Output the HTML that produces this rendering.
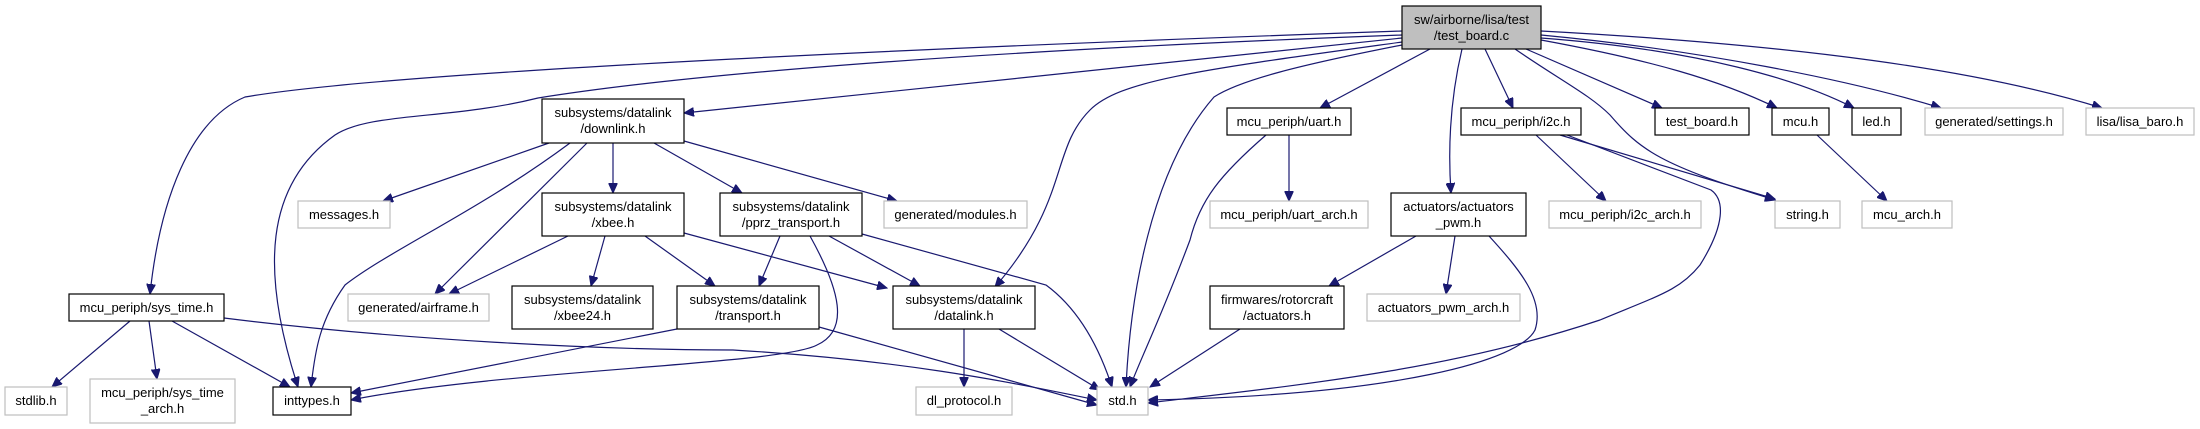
<!DOCTYPE html>
<html><head><meta charset="utf-8"><style>
html,body{margin:0;padding:0;background:#fff;width:2200px;height:429px;overflow:hidden}
svg{display:block}
text{font-family:"Liberation Sans",sans-serif;font-size:13px;fill:#000;text-anchor:middle}
.e{fill:none;stroke:#191970;stroke-width:1.2}
.b{fill:#fff;stroke:#000;stroke-width:1.2}
.g{fill:#fff;stroke:#bfbfbf;stroke-width:1.2}
</style></head><body>
<svg width="2200" height="429" viewBox="0 0 2200 429" xmlns="http://www.w3.org/2000/svg">
<defs><marker id="a" markerUnits="userSpaceOnUse" markerWidth="11" markerHeight="9" refX="10" refY="4.5" orient="auto"><path d="M0,0 L10,4.5 L0,9 z" fill="#191970" stroke="#191970"/></marker></defs>
<g marker-end="url(#a)">
<path class="e" d="M1402,31 C1000,45 400,70 245,97 C190,120 160,200 150,294"/>
<path class="e" d="M1402,35 C1000,50 700,72 538,98 C450,120 370,112 335,135 C265,185 260,270 298,387"/>
<path class="e" d="M1402,38 C1200,60 900,90 684,113"/>
<path class="e" d="M1402,42 C1200,70 1120,80 1090,110 C1050,150 1070,200 995,287"/>
<path class="e" d="M1402,45 C1300,65 1240,80 1214,97 C1150,170 1130,300 1126,387"/>
<path class="e" d="M1430,49 L1320,108"/>
<path class="e" d="M1462,49 C1450,100 1448,150 1451,193"/>
<path class="e" d="M1485,49 L1513,108"/>
<path class="e" d="M1515,49 C1560,80 1590,95 1610,115 C1640,150 1660,165 1775,200"/>
<path class="e" d="M1526,49 L1662,108"/>
<path class="e" d="M1541,40 C1650,60 1720,80 1777,108"/>
<path class="e" d="M1541,38 C1700,50 1800,80 1854,108"/>
<path class="e" d="M1541,35 C1700,50 1850,80 1941,108"/>
<path class="e" d="M1541,31 C1800,45 1980,70 2102,108"/>
<path class="e" d="M549,143 L383,201"/>
<path class="e" d="M570,143 C480,210 390,250 345,285 C320,320 315,350 311,387"/>
<path class="e" d="M587,143 L435,294"/>
<path class="e" d="M613,143 L613,193"/>
<path class="e" d="M654,143 L742,193"/>
<path class="e" d="M684,141 L897,201"/>
<path class="e" d="M568,236 L449,294"/>
<path class="e" d="M605,236 L591,286"/>
<path class="e" d="M645,236 L715,286"/>
<path class="e" d="M684,233 L887,288"/>
<path class="e" d="M780,236 L759,286"/>
<path class="e" d="M810,236 C840,290 850,330 817,345 C780,365 500,370 351,400"/>
<path class="e" d="M829,236 L920,286"/>
<path class="e" d="M862,234 L1046,285 C1080,310 1100,350 1112,387"/>
<path class="e" d="M677,329 L351,393"/>
<path class="e" d="M819,327 L1097,405"/>
<path class="e" d="M964,329 L964,387"/>
<path class="e" d="M999,329 L1100,390"/>
<path class="e" d="M130,321 L52,387"/>
<path class="e" d="M149,321 L157,379"/>
<path class="e" d="M172,321 L290,387"/>
<path class="e" d="M224,318 C400,340 600,350 733,350 C900,360 1000,380 1097,400"/>
<path class="e" d="M1289,135 L1289,201"/>
<path class="e" d="M1266,135 C1220,175 1200,200 1190,240 C1160,320 1140,360 1130,387"/>
<path class="e" d="M1416,236 L1329,286"/>
<path class="e" d="M1455,236 L1446,294"/>
<path class="e" d="M1489,236 C1520,270 1545,300 1535,330 C1520,360 1400,395 1148,400"/>
<path class="e" d="M1240,329 L1150,387"/>
<path class="e" d="M1536,135 L1606,201"/>
<path class="e" d="M1560,135 L1775,199"/>
<path class="e" d="M1567,135 L1711,190 C1725,200 1725,225 1700,265 C1680,290 1660,295 1600,320 C1450,370 1300,385 1148,403"/>
<path class="e" d="M1817,135 L1887,201"/>
</g>
<g>
<rect x="1402" y="6" width="139" height="43" fill="#bfbfbf" stroke="#000" stroke-width="1.2"/><text x="1471.5" y="24">sw/airborne/lisa/test</text><text x="1471.5" y="40">/test_board.c</text>
<rect class="b" x="542" y="99" width="142" height="44"/><text x="613" y="117">subsystems/datalink</text><text x="613" y="133">/downlink.h</text>
<rect class="g" x="298" y="201" width="92" height="27"/><text x="344" y="219">messages.h</text>
<rect class="b" x="542" y="193" width="142" height="43"/><text x="613" y="211">subsystems/datalink</text><text x="613" y="227">/xbee.h</text>
<rect class="b" x="720" y="193" width="142" height="43"/><text x="791" y="211">subsystems/datalink</text><text x="791" y="227">/pprz_transport.h</text>
<rect class="g" x="884" y="201" width="143" height="27"/><text x="955.5" y="219">generated/modules.h</text>
<rect class="g" x="348" y="294" width="141" height="27"/><text x="418.5" y="312">generated/airframe.h</text>
<rect class="b" x="512" y="286" width="141" height="43"/><text x="582.5" y="304">subsystems/datalink</text><text x="582.5" y="320">/xbee24.h</text>
<rect class="b" x="677" y="286" width="142" height="43"/><text x="748" y="304">subsystems/datalink</text><text x="748" y="320">/transport.h</text>
<rect class="b" x="69" y="294" width="155" height="27"/><text x="146.5" y="312">mcu_periph/sys_time.h</text>
<rect class="g" x="5" y="387" width="62" height="28"/><text x="36" y="405">stdlib.h</text>
<rect class="g" x="90" y="379" width="145" height="44"/><text x="162.5" y="397">mcu_periph/sys_time</text><text x="162.5" y="413">_arch.h</text>
<rect class="b" x="273" y="387" width="78" height="28"/><text x="312" y="405">inttypes.h</text>
<rect class="b" x="1227" y="108" width="124" height="27"/><text x="1289" y="126">mcu_periph/uart.h</text>
<rect class="g" x="1210" y="201" width="158" height="27"/><text x="1289" y="219">mcu_periph/uart_arch.h</text>
<rect class="b" x="1391" y="193" width="135" height="43"/><text x="1458.5" y="211">actuators/actuators</text><text x="1458.5" y="227">_pwm.h</text>
<rect class="b" x="893" y="286" width="142" height="43"/><text x="964" y="304">subsystems/datalink</text><text x="964" y="320">/datalink.h</text>
<rect class="b" x="1210" y="286" width="134" height="43"/><text x="1277" y="304">firmwares/rotorcraft</text><text x="1277" y="320">/actuators.h</text>
<rect class="g" x="1367" y="294" width="153" height="27"/><text x="1443.5" y="312">actuators_pwm_arch.h</text>
<rect class="g" x="916" y="387" width="96" height="28"/><text x="964" y="405">dl_protocol.h</text>
<rect class="g" x="1097" y="387" width="51" height="28"/><text x="1122.5" y="405">std.h</text>
<rect class="b" x="1461" y="108" width="120" height="27"/><text x="1521" y="126">mcu_periph/i2c.h</text>
<rect class="b" x="1655" y="108" width="94" height="27"/><text x="1702" y="126">test_board.h</text>
<rect class="b" x="1772" y="108" width="57" height="27"/><text x="1800.5" y="126">mcu.h</text>
<rect class="b" x="1852" y="108" width="49" height="27"/><text x="1876.5" y="126">led.h</text>
<rect class="g" x="1925" y="108" width="138" height="27"/><text x="1994" y="126">generated/settings.h</text>
<rect class="g" x="2086" y="108" width="108" height="27"/><text x="2140" y="126">lisa/lisa_baro.h</text>
<rect class="g" x="1549" y="201" width="152" height="27"/><text x="1625" y="219">mcu_periph/i2c_arch.h</text>
<rect class="g" x="1775" y="201" width="65" height="27"/><text x="1807.5" y="219">string.h</text>
<rect class="g" x="1862" y="201" width="90" height="27"/><text x="1907" y="219">mcu_arch.h</text>
</g>
</svg>
</body></html>
